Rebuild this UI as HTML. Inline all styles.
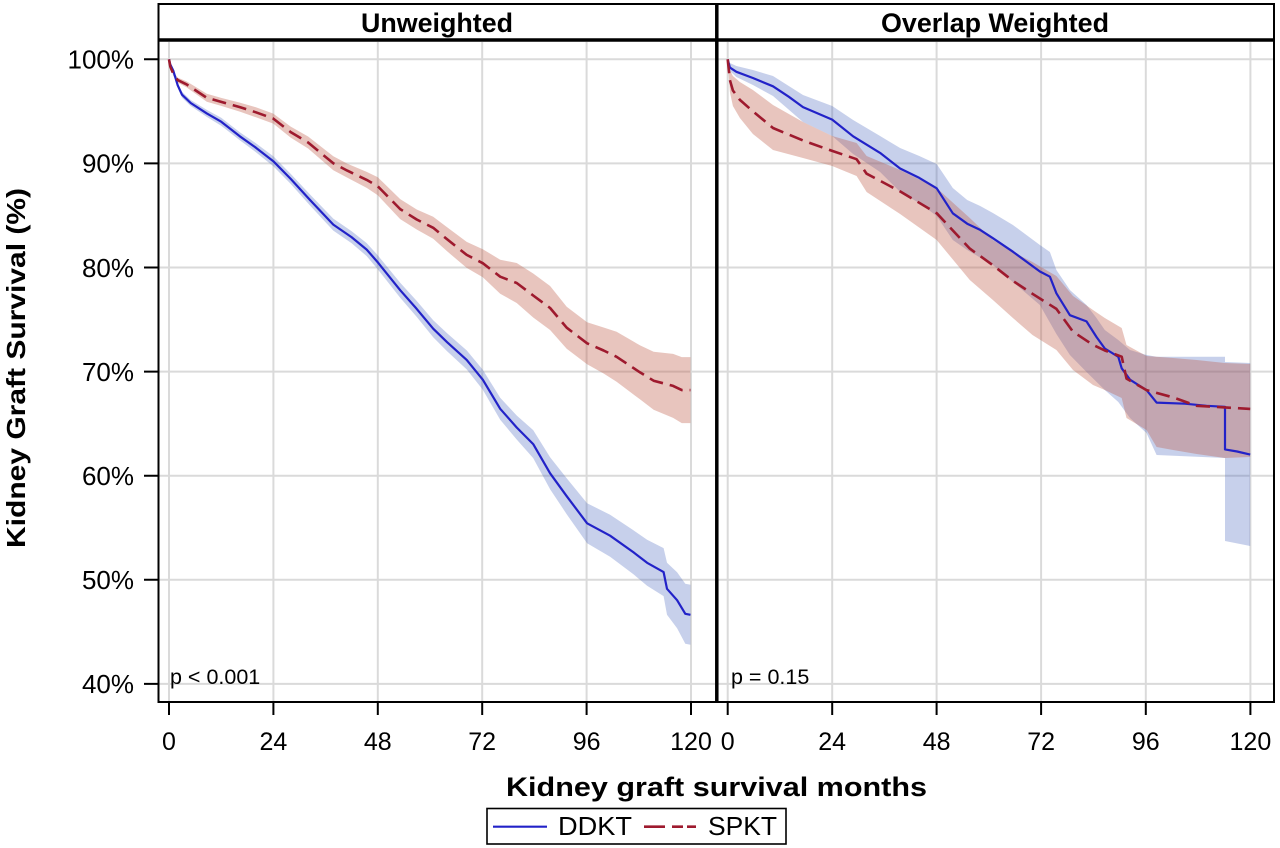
<!DOCTYPE html>
<html><head><meta charset="utf-8"><style>
html,body{margin:0;padding:0;background:#fff;}
svg{display:block;}
text{font-family:"Liberation Sans",Arial,sans-serif;fill:#000;}
</style></head><body>
<svg width="1280" height="848" viewBox="0 0 1280 848" xmlns="http://www.w3.org/2000/svg">
<rect x="0" y="0" width="1280" height="848" fill="#fff"/>
<!-- gridlines -->
<g stroke="#dadada" stroke-width="2" fill="none">
<path d="M159 59.3H715M159 163.4H715M159 267.5H715M159 371.6H715M159 475.7H715M159 579.8H715M159 683.9H715"/>
<path d="M718.5 59.3H1273M718.5 163.4H1273M718.5 267.5H1273M718.5 371.6H1273M718.5 475.7H1273M718.5 579.8H1273M718.5 683.9H1273"/>
<path d="M169 42V701M273.4 42V701M377.8 42V701M482.2 42V701M586.6 42V701M691 42V701"/>
<path d="M727.7 42V701M832.2 42V701M936.6 42V701M1041.1 42V701M1145.8 42V701M1250.4 42V701"/>
</g>
<!-- left bands -->
<polygon fill="rgb(70,100,190)" fill-opacity="0.3" points="169,59.3 170.3,63.5 173.3,68.7 177.7,82.8 182.0,91.7 190.7,100 206.8,109.9 221.2,117.7 239.8,132.3 255.9,143.2 273.3,156.2 290.7,173.9 309.8,194.2 333.3,218.6 351.5,231.1 366.7,243.1 377.6,255.1 400.2,282.7 416.7,300.9 433.2,320.2 447.1,333.2 466.7,350.4 482.8,369.7 500.2,397.8 516.7,415.5 533.2,430.1 550.1,457.3 566.7,478.2 587.1,503.3 610.1,514.7 633.6,530.4 647.1,539.8 663.6,548.1 667.0,562.8 677.1,572.2 685.3,583.8 690.5,584.8 690.5,644.8 685.3,643.8 677.1,628.2 667.0,614.8 663.6,596.1 647.1,585.8 633.6,574.4 610.1,556.7 587.1,543.3 566.7,514.2 550.1,489.3 533.2,458.1 516.7,439.5 500.2,419.8 482.8,389.7 466.7,369.4 447.1,351.2 433.2,337.2 416.7,316.9 400.2,297.7 377.6,269.1 366.7,256.1 351.5,243.1 333.3,230.6 309.8,205.2 290.7,183.9 273.3,166.2 255.9,152.2 239.8,140.3 221.2,125.7 206.8,116.9 190.7,106 182.0,97.7 177.7,87.8 173.3,72.7 170.3,65.5"/>
<polygon fill="rgb(190,90,70)" fill-opacity="0.35" points="169,59.3 170.3,65.6 173.3,71.9 177.7,77.6 186.4,81.3 206.8,93.8 221.2,97.9 239.8,102.6 255.9,107.3 273.3,113.6 290.7,126.6 308.1,136.5 333.3,156.3 347.2,163.6 366.7,171.9 377.6,177.1 400.2,199.1 416.7,209.5 433.2,216.8 447.1,227.3 466.7,241.9 482.8,249.2 500.2,259.7 516.7,263 533.2,273.5 550.1,286 566.7,306.7 587.1,322.3 603.6,327.5 616.6,331.8 640.1,345.4 653.6,351.7 673.1,353.9 681.8,357.1 690.5,357.1 690.5,423.1 681.8,423.1 673.1,417.9 653.6,409.7 640.1,399.4 616.6,381.8 603.6,373.5 587.1,364.3 566.7,348.7 550.1,330 533.2,317.5 516.7,303 500.2,293.7 482.8,277.2 466.7,267.9 447.1,251.3 433.2,238.8 416.7,229.5 400.2,219.1 377.6,195.1 366.7,187.9 347.2,177.6 333.3,170.3 308.1,148.5 290.7,137.6 273.3,123.6 255.9,117.3 239.8,111.6 221.2,105.9 206.8,101.8 186.4,87.3 177.7,82.6 173.3,75.9 170.3,67.6"/>
<!-- right bands -->
<polygon fill="rgb(70,100,190)" fill-opacity="0.3" points="727.7,59.3 729.9,63 736.4,66 752.9,70 773,76 803,95 832.2,106 853.1,120 880.1,136 900.1,148 919.3,156 936.7,164 952.8,188 967.2,200 980.2,206 992.9,213 1012.9,225 1039.9,245 1049.9,252 1056.4,270 1069.9,290 1086.5,305 1096.5,318 1104.8,330 1118.3,340 1130,350 1146.5,355 1156.6,356.7 1225,356.7 1225,362 1250.2,363 1250.2,546 1225,541 1225,458 1156.6,455 1146.5,433 1130,418 1118.3,402 1104.8,390 1086.5,372 1069.9,355 1056.4,334 1039.9,305 1012.9,282 992.9,265 967.2,250 952.8,240 936.7,216 919.3,203 900.1,192 880.1,172 853.1,154 832.2,136 803,122 773,96 752.9,85 736.4,77 729.9,71"/>
<polygon fill="rgb(190,90,70)" fill-opacity="0.35" points="727.7,59.3 729.9,70 732.9,76 739.9,82 752.9,90 773,105 803,122 832.2,136 856.6,143 866.6,156 900.1,170 936.7,188 969.8,218 992.9,240 1012.9,252 1032.5,262 1056.4,276 1073,296 1093,310 1104.8,318 1121.7,328 1126.5,345 1146.5,356 1173.1,358 1196.6,360 1225,363 1250.2,364 1250.2,457 1225,458 1196.6,454 1173.1,450 1156.6,447 1146.5,430 1126.5,418 1121.7,398 1104.8,390 1093,385 1073,370 1056.4,350 1032.5,335 1012.9,318 992.9,300 969.8,280 936.7,240 900.1,214 866.6,192 856.6,176 832.2,166 803,158 773,150 752.9,134 739.9,118 732.9,106 729.9,92"/>
<!-- lines -->
<g fill="none" stroke-linejoin="round">
<polyline stroke="#2222c8" stroke-width="2.2" points="169,59.3 170.3,64.5 173.3,70.7 177.7,85.3 182.0,94.7 190.7,103.0 206.8,113.4 221.2,121.7 239.8,136.3 255.9,147.7 273.3,161.2 290.7,178.9 309.8,199.7 333.3,224.6 351.5,237.1 366.7,249.6 377.6,262.1 400.2,290.2 416.7,308.9 433.2,328.7 447.1,342.2 466.7,359.9 482.8,379.7 500.2,408.8 516.7,427.5 533.2,444.1 550.1,473.3 566.7,496.2 587.1,523.3 610.1,535.7 633.6,552.4 647.1,562.8 663.6,572.1 667.0,588.8 677.1,600.2 685.3,613.8 690.5,614.8"/>
<polyline stroke="#9e1a2e" stroke-width="2.6" stroke-dasharray="14 7" points="169,59.3 170.3,66.6 173.3,73.9 177.7,80.1 186.4,84.3 206.8,97.8 221.2,101.9 239.8,107.1 255.9,112.3 273.3,118.6 290.7,132.1 308.1,142.5 333.3,163.3 347.2,170.6 366.7,179.9 377.6,186.1 400.2,209.1 416.7,219.5 433.2,227.8 447.1,239.3 466.7,254.9 482.8,263.2 500.2,276.7 516.7,283.0 533.2,295.5 550.1,308.0 566.7,327.7 587.1,343.3 603.6,350.5 616.6,356.8 640.1,372.4 653.6,380.7 673.1,385.9 681.8,390.1 690.5,390.1"/>
<polyline stroke="#2222c8" stroke-width="2.2" points="727.7,59.3 729.9,67.6 736.4,71.8 752.9,78.0 773.0,86.3 788.7,96.7 803.0,107.1 832.2,119.6 853.1,136.3 880.1,152.9 900.1,168.5 919.3,177.9 936.7,188.3 952.8,213.3 967.2,223.7 980.2,229.9 992.9,238.2 1012.9,251.7 1039.9,271.5 1049.9,276.7 1056.4,293.3 1069.9,315.2 1086.5,321.4 1096.5,337.0 1104.8,348.5 1118.3,356.8 1121.7,368.3 1130.0,379.7 1146.5,390.1 1156.6,402.6 1184.9,403.7 1206.6,405.8 1225.0,406.8 1225.0,449.4 1237.1,451.5 1250.2,454.6"/>
<polyline stroke="#9e1a2e" stroke-width="2.6" stroke-dasharray="14 7" points="727.7,59.3 729.9,80.1 732.9,90.5 739.9,99.9 752.9,111.3 773.0,128.0 803.0,140.5 832.2,150.9 856.6,159.2 866.6,173.7 900.1,191.4 936.7,213.2 969.8,248.6 992.9,265.2 1012.9,280.9 1032.5,293.8 1056.4,308.9 1073.0,331.7 1093.0,344.9 1104.8,350.5 1121.7,356.7 1126.5,378.6 1146.5,390.1 1173.1,397.4 1196.6,405.8 1250.2,408.9"/>
</g>
<!-- frame -->
<g stroke="#000" fill="none">
<path d="M157.5 4H1275" stroke-width="2"/>
<path d="M158.5 4V703" stroke-width="2"/>
<path d="M1274 4V703" stroke-width="2"/>
<path d="M158 40H1274" stroke-width="3.5"/>
<path d="M716.8 4V702" stroke-width="3.5"/>
<path d="M157.5 702H1275" stroke-width="2"/>
<path d="M144 59.3H158M144 163.4H158M144 267.5H158M144 371.6H158M144 475.7H158M144 579.8H158M144 683.9H158" stroke-width="2"/>
<path d="M169 702V715M273.4 702V715M377.8 702V715M482.2 702V715M586.6 702V715M691 702V715M727.7 702V715M832.2 702V715M936.6 702V715M1041.1 702V715M1145.8 702V715M1250.4 702V715" stroke-width="2"/>
</g>
<!-- headers -->
<text x="437" y="32" font-size="27" font-weight="bold" text-anchor="middle" textLength="152" lengthAdjust="spacingAndGlyphs">Unweighted</text>
<text x="995" y="32" font-size="27" font-weight="bold" text-anchor="middle" textLength="228" lengthAdjust="spacingAndGlyphs">Overlap Weighted</text>
<!-- y tick labels -->
<g font-size="26" text-anchor="end">
<text x="134" y="68.6">100%</text>
<text x="134" y="172.7">90%</text>
<text x="134" y="276.8">80%</text>
<text x="134" y="380.9">70%</text>
<text x="134" y="485">60%</text>
<text x="134" y="589.1">50%</text>
<text x="134" y="693.2">40%</text>
</g>
<!-- x tick labels -->
<g font-size="25" text-anchor="middle">
<text x="169" y="750">0</text>
<text x="273.4" y="750">24</text>
<text x="377.8" y="750">48</text>
<text x="482.2" y="750">72</text>
<text x="586.6" y="750">96</text>
<text x="691" y="750">120</text>
<text x="727.7" y="750">0</text>
<text x="832.2" y="750">24</text>
<text x="936.6" y="750">48</text>
<text x="1041.1" y="750">72</text>
<text x="1145.8" y="750">96</text>
<text x="1250.4" y="750">120</text>
</g>
<!-- p values -->
<text x="170" y="684" font-size="21.5">p &lt; 0.001</text>
<text x="731" y="684" font-size="21.5">p = 0.15</text>
<!-- axis titles -->
<text x="506" y="796" font-size="27" font-weight="bold" textLength="421" lengthAdjust="spacingAndGlyphs">Kidney graft survival months</text>
<text transform="translate(25,368) rotate(-90)" x="0" y="0" font-size="26" font-weight="bold" text-anchor="middle" textLength="360" lengthAdjust="spacingAndGlyphs">Kidney Graft Survival (%)</text>
<!-- legend -->
<rect x="487" y="808.5" width="299" height="35.5" fill="#fff" stroke="#000" stroke-width="1.6"/>
<path d="M493 826.7H547" stroke="#2222c8" stroke-width="2.2"/>
<path d="M644 826.7H665M672 826.7H683M687 826.7H696" stroke="#9e1a2e" stroke-width="2.6"/>
<text x="558" y="835" font-size="26" textLength="74" lengthAdjust="spacingAndGlyphs">DDKT</text>
<text x="708" y="835" font-size="26" textLength="69" lengthAdjust="spacingAndGlyphs">SPKT</text>
</svg>
</body></html>
